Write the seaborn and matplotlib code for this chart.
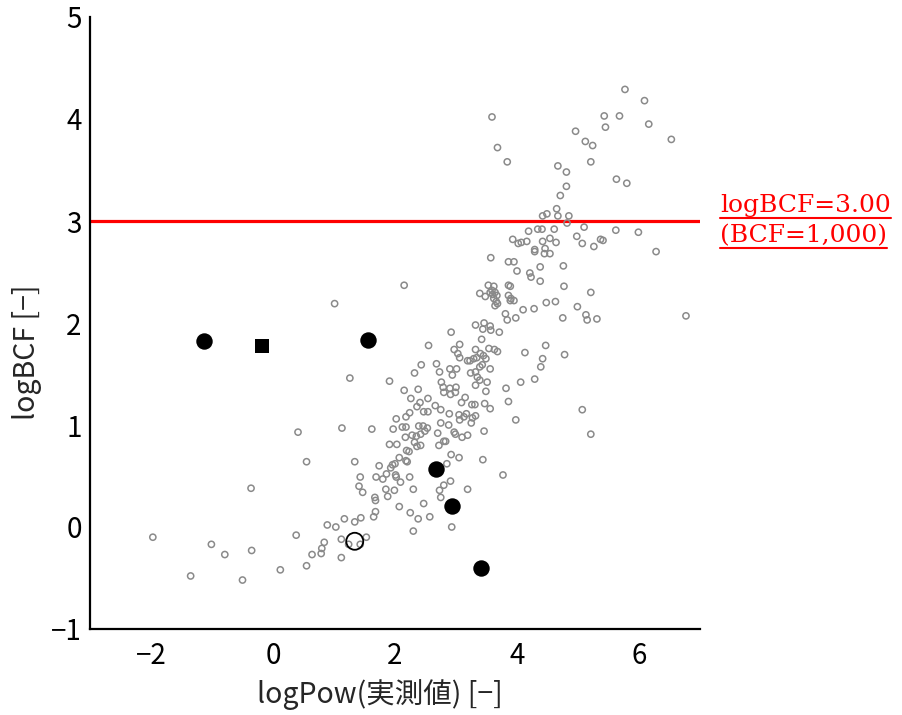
import matplotlib
matplotlib.use("Agg")
import matplotlib.pyplot as plt
from matplotlib.lines import Line2D
import seaborn as sns
import pandas as pd

# ---- data ----
gray_points = [
    (3.59,4.02),(3.68,3.72),(3.84,3.58),(4.67,3.54),(4.81,3.48),(4.81,3.34),(4.71,3.25),(4.65,3.12),
    (4.42,3.05),(4.49,3.07),(4.67,3.05),(4.85,3.05),(4.82,2.98),(4.19,2.90),(4.34,2.92),(4.41,2.92),
    (4.61,2.92),(3.93,2.82),(4.02,2.78),(4.07,2.79),(4.16,2.80),(4.42,2.80),(4.54,2.83),(4.64,2.79),
    (4.29,2.72),(4.46,2.73),
    (5.77,4.29),(6.09,4.18),(5.43,4.03),(5.68,4.03),(5.45,3.92),(6.16,3.95),(4.96,3.88),(6.53,3.80),
    (5.12,3.78),(5.24,3.74),(5.21,3.58),(5.63,3.41),(5.80,3.37),(5.10,2.94),(5.62,2.91),(5.99,2.89),
    (4.98,2.85),(5.07,2.78),(5.37,2.82),(5.41,2.81),(5.26,2.75),(6.28,2.70),
    (5.21,2.30),(4.99,2.16),(5.13,2.08),(5.15,2.03),(5.31,2.04),(6.77,2.07),(5.07,1.15),(5.21,0.91),
    (2.15,2.37),(1.01,2.19),(2.55,1.78),(2.43,1.59),(2.32,1.51),(1.26,1.46),(1.91,1.43),(2.15,1.34),
    (2.38,1.35),(2.26,1.26),(2.54,1.26),(2.41,1.22),(2.36,1.18),(2.47,1.13),(2.54,1.13),(2.24,1.12),
    (2.18,1.08),(2.02,1.06),
    (0.41,0.93),(1.13,0.97),(1.62,0.96),(1.97,0.96),(2.18,0.98),(2.12,0.98),(2.39,0.99),(2.46,0.99),
    (2.53,0.97),(2.49,0.94),(2.28,0.90),(2.35,0.89),(2.42,0.91),(2.17,0.88),(1.91,0.81),(2.03,0.81),
    (2.32,0.83),(2.36,0.79),(2.42,0.80),(2.19,0.75),(2.23,0.74),(0.55,0.64),(1.34,0.64),(2.07,0.68),
    (2.18,0.65),(2.20,0.64),(1.74,0.60),(1.96,0.61),(2.00,0.62),(1.93,0.58),(1.86,0.52),(2.01,0.51),
    (2.02,0.49),(2.09,0.44),(2.24,0.49),(1.69,0.49),(1.80,0.47),(1.43,0.49),(1.41,0.40),(1.47,0.34),
    (1.85,0.37),(1.99,0.36),(2.30,0.37),(1.67,0.29),(1.68,0.26),(1.88,0.30),(2.47,0.23),(2.07,0.20),
    (2.25,0.14),(2.38,0.08),(2.30,-0.04),(1.68,0.15),(1.65,0.10),(1.44,0.09),(1.34,0.05),(1.17,0.08),
    (1.03,0.00),(0.89,0.02),(0.38,-0.08),(0.84,-0.15),(0.80,-0.21),(0.79,-0.26),(0.64,-0.27),(0.55,-0.38),
    (1.12,-0.30),(1.53,-0.10),(1.12,-0.12),(1.24,-0.17),(1.43,-0.17),(2.57,0.10),
    (2.70,0.92),(2.75,1.02),(2.88,1.00),(2.97,0.93),(2.99,0.91),(3.06,1.05),(3.25,1.02),(3.10,0.88),
    (3.19,0.90),(3.46,0.94),(2.83,0.84),(2.80,0.84),(2.72,0.80),(2.92,0.71),(3.05,0.68),(2.85,0.62),
    (3.44,0.66),(3.77,0.51),(2.91,0.45),(2.80,0.41),(2.73,0.36),(2.75,0.29),(3.19,0.37),(2.93,0.00),
    (3.98,1.05),
    (3.57,2.64),(3.86,2.60),(3.95,2.60),(4.29,2.70),(4.45,2.68),(4.54,2.68),(4.76,2.56),(4.38,2.55),
    (4.00,2.51),(4.21,2.49),(4.23,2.45),(4.38,2.41),(4.77,2.36),(3.86,2.37),(3.89,2.36),(3.53,2.37),
    (3.62,2.36),(3.59,2.32),(3.56,2.30),(3.64,2.30),(3.60,2.28),(3.67,2.27),(3.62,2.24),(3.66,2.21),
    (3.64,2.17),(3.68,2.19),(3.39,2.29),(3.48,2.26),(3.86,2.27),(3.90,2.24),(3.95,2.22),(3.89,2.22),
    (4.48,2.20),(4.63,2.21),(4.28,2.14),(4.10,2.13),(3.81,2.09),(3.84,2.03),(3.98,2.05),(4.75,2.05),
    (3.32,1.98),(3.46,2.00),(3.56,1.97),(3.44,1.94),(3.57,1.93),(3.71,1.91),(2.92,1.91),(3.42,1.84),
    (3.06,1.79),(2.97,1.74),(3.03,1.70),(3.06,1.66),(3.19,1.63),(3.23,1.63),(3.29,1.65),(3.34,1.66),
    (3.40,1.70),(3.45,1.68),(3.32,1.74),(3.54,1.75),(3.63,1.74),(3.68,1.72),(3.49,1.65),(4.13,1.71),
    (4.47,1.78),(4.42,1.65),(4.39,1.57),(4.78,1.69),(2.68,1.60),(2.73,1.52),(2.90,1.55),(3.01,1.55),
    (2.94,1.49),(3.24,1.51),(3.32,1.52),(3.39,1.57),(3.43,1.59),(3.56,1.55),(3.35,1.47),(3.39,1.44),
    (3.51,1.42),(3.32,1.39),(2.76,1.42),(2.79,1.37),(2.80,1.32),(2.90,1.36),(3.00,1.37),(2.91,1.30),
    (2.99,1.32),(3.15,1.27),(3.09,1.22),(3.26,1.20),(3.31,1.20),(3.49,1.33),(3.47,1.21),(3.56,1.16),
    (3.82,1.36),(3.86,1.23),(4.06,1.42),(4.29,1.45),(2.66,1.19),(2.75,1.15),(2.89,1.11),(3.05,1.10),
    (3.13,1.08),(3.17,1.11),(3.32,1.09),(3.27,1.07),
    (-0.36,0.38),(-1.97,-0.10),(-1.01,-0.17),(-0.79,-0.27),(-0.35,-0.23),(-1.35,-0.48),(-0.50,-0.52),
    (0.12,-0.42),
]
black_circle_x = [-1.13, 1.56, 2.68, 2.94, 3.41]
black_circle_y = [1.82, 1.83, 0.57, 0.21, -0.40]
black_square_x = [-0.18]
black_square_y = [1.77]
open_circle_x = [1.34]
open_circle_y = [-0.14]
threshold = 3.0
x_ticks = [-2, 0, 2, 4, 6]
y_ticks = [-1, 0, 1, 2, 3, 4, 5]
xlabel = "logPow(実測値) [−]"
ylabel = "logBCF [−]"
note_lines = ["logBCF=3.00", "(BCF=1,000)"]

# ---- plot ----
sns.set_style("white")
plt.rcParams['font.family'] = ['Noto Sans CJK JP', 'DejaVu Sans']
plt.rcParams['axes.unicode_minus'] = True

fig = plt.figure(figsize=(9.03, 7.15), dpi=100)
ax = fig.add_axes([90/903, 1-629/715, 610/903, 612/715])

df_gray = pd.DataFrame(gray_points, columns=["x", "y"])
sns.scatterplot(data=df_gray, x="x", y="y", ax=ax, marker="o", s=20,
                facecolor="none", edgecolor="#8a8a8a", linewidth=1.1, zorder=2)
sns.scatterplot(x=black_circle_x, y=black_circle_y, ax=ax, marker="o", s=140,
                color="black", edgecolor="black", linewidth=0, zorder=3)
sns.scatterplot(x=black_square_x, y=black_square_y, ax=ax, marker="s", s=95,
                color="black", edgecolor="black", linewidth=0, zorder=3)
sns.scatterplot(x=open_circle_x, y=open_circle_y, ax=ax, marker="o", s=150,
                facecolor="none", edgecolor="black", linewidth=1.3, zorder=3)

ax.axhline(threshold, color="red", linewidth=2.3, zorder=1)

ax.set_xlim(-3, 7)
ax.set_ylim(-1, 5)
ax.set_xticks(x_ticks)
ax.set_yticks(y_ticks)
for s in ["top", "right"]:
    ax.spines[s].set_visible(False)
for s in ["left", "bottom"]:
    ax.spines[s].set_linewidth(1.6)
    ax.spines[s].set_color("black")
ax.tick_params(direction="in", length=11, width=1.4, labelsize=20, colors="black", pad=6)
ax.tick_params(axis="x", pad=9)

ax.set_xlabel(xlabel, fontsize=20.5)
ax.set_ylabel(ylabel, fontsize=20.5)
ax.xaxis.set_label_coords(0.475, -0.082)
ax.yaxis.set_label_coords(-0.079, 0.453)

# red annotation with underlines
fig.canvas.draw()
renderer = fig.canvas.get_renderer()
ys = [212/715, 242/715]
for txt, yy in zip(note_lines, ys):
    t = fig.text(720/903, 1 - yy, txt, color="red", fontsize=18,
                 family="DejaVu Serif", ha="left", va="baseline")
    fig.canvas.draw()
    bb = t.get_window_extent(renderer)
    yline = (bb.y0 - 1) / fig.bbox.height
    fig.add_artist(Line2D([bb.x0 / fig.bbox.width, bb.x1 / fig.bbox.width],
                          [yline, yline], color="red", linewidth=1.5))

fig.savefig("out.png", dpi=100)
